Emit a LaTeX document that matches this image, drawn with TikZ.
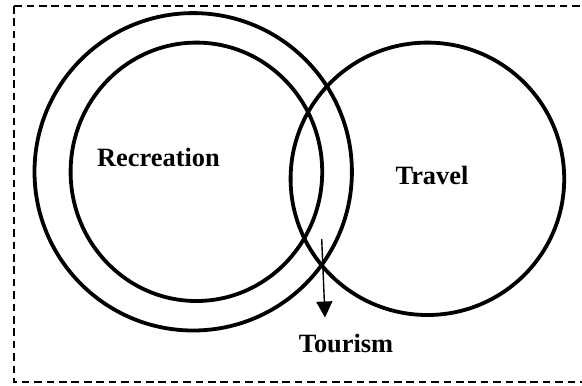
\documentclass[tikz,border=0pt]{standalone}
\usepackage{fontspec}
\setmainfont{Liberation Serif}
\usetikzlibrary{shapes.geometric,arrows.meta}

\begin{document}
\begin{tikzpicture}[
  x=0.5pt, y=-0.5pt,
  ring/.style={ellipse, draw, line width=1.9pt, inner sep=0pt},
  label/.style={font=\bfseries\fontsize{13.2}{15}\selectfont, inner sep=1pt},
  frame/.style={draw, line width=1pt, dash pattern=on 3.8pt off 2.4pt}
]
\useasboundingbox (0,0) rectangle (582,385);

% dashed frame
\draw[frame] (13.5,6) rectangle (584,382);

% circles
\node[ring, minimum width=158.7pt, minimum height=158.7pt] (outer) at (193.2,171.8) {};
\node[ring, minimum width=125.8pt, minimum height=129.2pt] (recreation) at (196.4,171.8) {};
\node[ring, minimum width=136.8pt, minimum height=136.2pt] (travel) at (427.4,178.8) {};

% labels
\node[label] (rectext) at (158.5,157.5) {Recreation};
\node[label] (travtext) at (432,175.5) {Travel};
\node[label] (tourtext) at (346,343.5) {Tourism};

% arrow to tourism
\coordinate (arrfrom) at (321.7,239);
\coordinate (arrto) at (325,317.5);
\draw[line width=0.7pt, -{Triangle[width=8pt,length=8pt]}] (arrfrom) -- (arrto);

\end{tikzpicture}
\end{document}
